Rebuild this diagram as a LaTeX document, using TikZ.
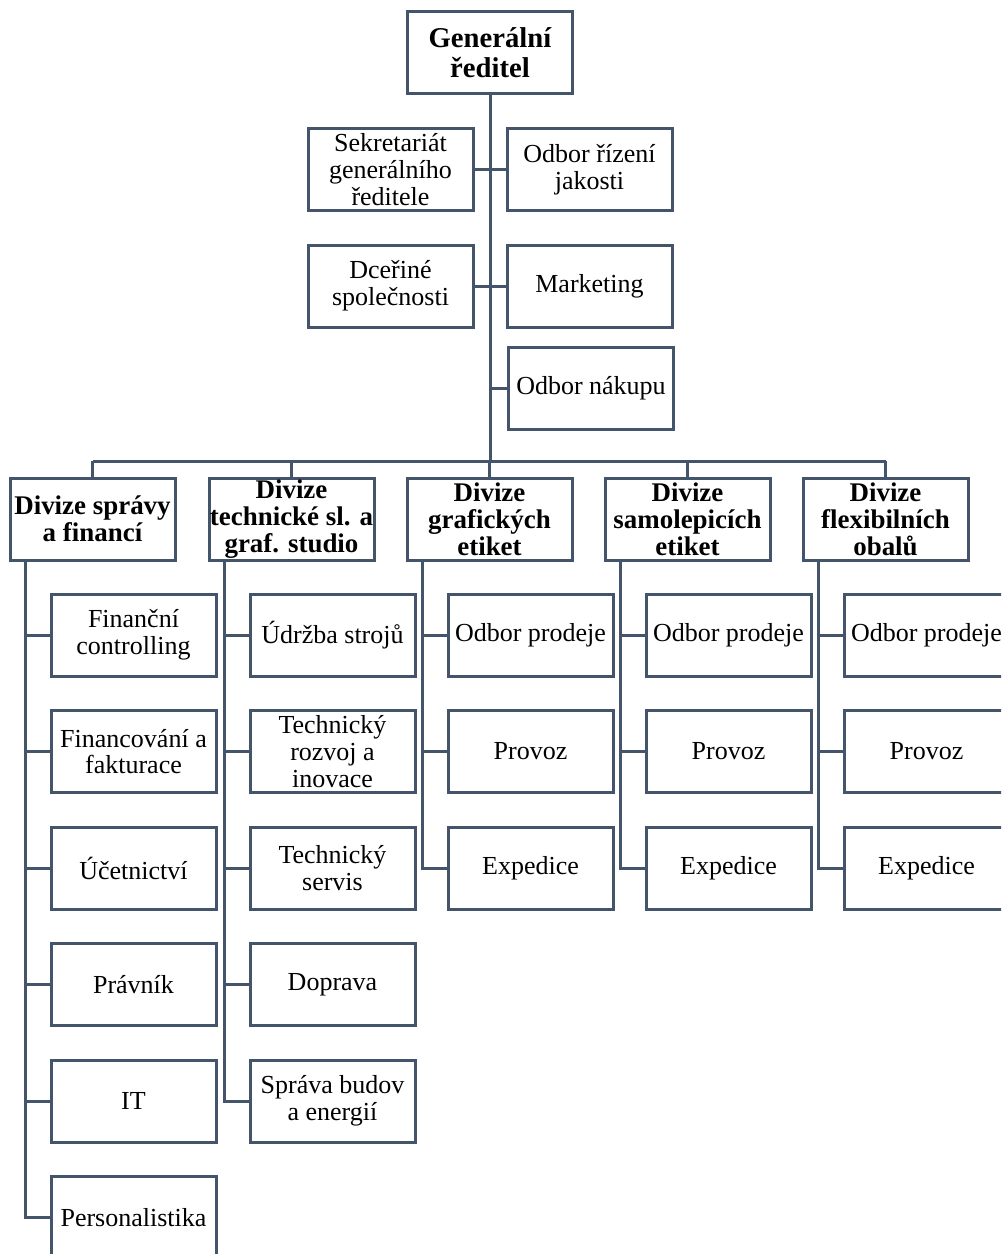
\documentclass[tikz,border=0pt]{standalone}
\usepackage{fontspec}
\setmainfont{Liberation Serif}
\usepackage{tikz}
\definecolor{slate}{HTML}{44546A}
\tikzset{unitbox/.style={draw=slate, line width=2.25pt, fill=white, minimum width=123.75pt, minimum height=61.5pt, inner sep=0pt, align=center, font=\fontsize{19.5}{20}\selectfont},
  headbox/.style={unitbox, font=\fontsize{20.2}{20.2}\selectfont\bfseries},
  topbox/.style={unitbox, font=\fontsize{21.5}{22.5}\selectfont\bfseries},
  link/.style={draw=slate, line width=2.25pt}}
\begin{document}
\begin{tikzpicture}[x=0.75pt,y=0.75pt,yscale=-1,xscale=1]
%set diagram page: 1001 x 1254, right column and last row run over the edge
\clip (0,0) rectangle (1001,1254);

% Top box
\node (gr) at (490,52.5) [topbox] {Generální\\ředitel};
% Staff boxes
\node (sek) at (390.5,169.5) [unitbox] {Sekretariát\\generálního\\ředitele};
\node (jak) at (589.5,169.5) [unitbox] {Odbor řízení\\jakosti};
\node (dce) at (390.5,286) [unitbox] {Dceřiné\\společnosti};
\node (mkt) at (589.5,286) [unitbox] {Marketing};
\node (nak) at (591,388) [unitbox] {Odbor nákupu};
\coordinate (bus) at (490,461);

% Divisions
\node (d1) at (92.5,519) [headbox] {Divize správy\\a financí};
\node (d2) at (291.5,519) [headbox] {Divize\\technické sl. a\\graf. studio};
\node (d3) at (489.5,519) [headbox] {Divize\\grafických\\etiket};
\node (d4) at (687.5,519) [headbox] {Divize\\samolepicích\\etiket};
\node (d5) at (885.5,519) [headbox] {Divize\\flexibilních\\obalů};

% Divize správy a financí
\node (a1) at (133.5,635) [unitbox] {Finanční\\controlling};
\node (a2) at (133.5,751.5) [unitbox] {Financování a\\fakturace};
\node (a3) at (133.5,868) [unitbox] {Účetnictví};
\node (a4) at (133.5,984.5) [unitbox] {Právník};
\node (a5) at (133.5,1101) [unitbox] {IT};
\node (a6) at (133.5,1217.5) [unitbox] {Personalistika};
% Divize technické sl. a graf. studio
\node (b1) at (332.5,635) [unitbox] {Údržba strojů};
\node (b2) at (332.5,751.5) [unitbox] {Technický\\rozvoj a\\inovace};
\node (b3) at (332.5,868) [unitbox] {Technický\\servis};
\node (b4) at (332.5,984.5) [unitbox] {Doprava};
\node (b5) at (332.5,1101) [unitbox] {Správa budov\\a energií};
% Divize grafických etiket
\node (c1) at (530.5,635) [unitbox] {Odbor prodeje};
\node (c2) at (530.5,751.5) [unitbox] {Provoz};
\node (c3) at (530.5,868) [unitbox] {Expedice};
% Divize samolepicích etiket
\node (e1) at (728.5,635) [unitbox] {Odbor prodeje};
\node (e2) at (728.5,751.5) [unitbox] {Provoz};
\node (e3) at (728.5,868) [unitbox] {Expedice};
% Divize flexibilních obalů
\node (f1) at (926.5,635) [unitbox] {Odbor prodeje};
\node (f2) at (926.5,751.5) [unitbox] {Provoz};
\node (f3) at (926.5,868) [unitbox] {Expedice};

%Straight Lines: trunk and staff
\draw[link] (gr.south) -- (gr.south |- bus);
\draw[link] (sek.east) -- (jak.west);
\draw[link] (dce.east) -- (mkt.west);
\draw[link] (nak.west) -- (nak.west -| gr.south);
%Straight Lines: bar to divisions
\draw[link] (d1.north |- bus) -- (d5.north |- bus);
\draw[link] (d1.north) -- (d1.north |- bus);
\draw[link] (d2.north) -- (d2.north |- bus);
\draw[link] (d3.north) -- (d3.north |- bus);
\draw[link] (d4.north) -- (d4.north |- bus);
\draw[link] (d5.north) -- (d5.north |- bus);

%Straight Lines: divisions to departments
\draw[link] (d1.south west) ++(17,0) |- (a1.west);
\draw[link] (d1.south west) ++(17,0) |- (a2.west);
\draw[link] (d1.south west) ++(17,0) |- (a3.west);
\draw[link] (d1.south west) ++(17,0) |- (a4.west);
\draw[link] (d1.south west) ++(17,0) |- (a5.west);
\draw[link] (d1.south west) ++(17,0) |- (a6.west);
\draw[link] (d2.south west) ++(17,0) |- (b1.west);
\draw[link] (d2.south west) ++(17,0) |- (b2.west);
\draw[link] (d2.south west) ++(17,0) |- (b3.west);
\draw[link] (d2.south west) ++(17,0) |- (b4.west);
\draw[link] (d2.south west) ++(17,0) |- (b5.west);
\draw[link] (d3.south west) ++(17,0) |- (c1.west);
\draw[link] (d3.south west) ++(17,0) |- (c2.west);
\draw[link] (d3.south west) ++(17,0) |- (c3.west);
\draw[link] (d4.south west) ++(17,0) |- (e1.west);
\draw[link] (d4.south west) ++(17,0) |- (e2.west);
\draw[link] (d4.south west) ++(17,0) |- (e3.west);
\draw[link] (d5.south west) ++(17,0) |- (f1.west);
\draw[link] (d5.south west) ++(17,0) |- (f2.west);
\draw[link] (d5.south west) ++(17,0) |- (f3.west);

\end{tikzpicture}
\end{document}
